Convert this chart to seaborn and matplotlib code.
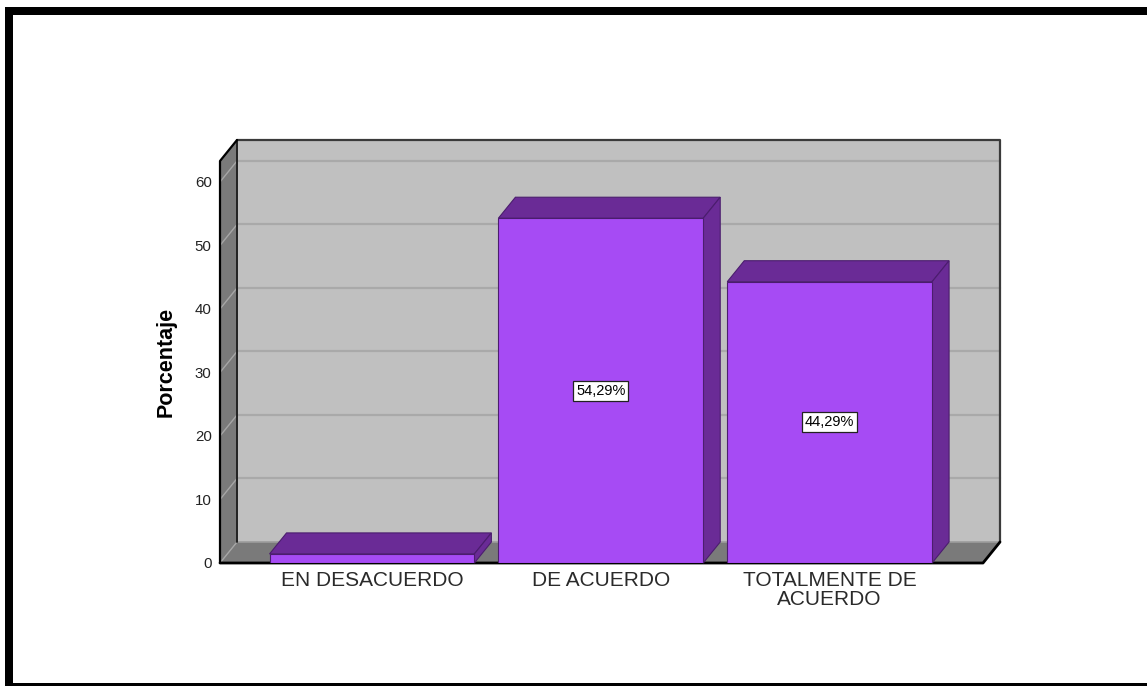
import matplotlib
matplotlib.use("Agg")
import matplotlib.pyplot as plt
from matplotlib.patches import Rectangle, Polygon
import seaborn as sns
import pandas as pd

# Survey answers (percent of respondents)
categories = ["EN DESACUERDO", "DE ACUERDO", "TOTALMENTE DE\nACUERDO"]
percentages = [1.43, 54.29, 44.29]
value_labels = ["", "54,29%", "44,29%"]
y_ticks = [0, 10, 20, 30, 40, 50, 60]
y_max = 63.3

FRONT = "#A64BF4"
DARK = "#6A2B96"
EDGE = "#4B1D6E"
WALL = "#C0C0C0"
SIDE = "#7A7A7A"

W, H, DPI = 1147, 686, 100

sns.set_theme(style="white")
plt.rcParams["font.family"] = ["Liberation Sans", "DejaVu Sans"]

fig = plt.figure(figsize=(W / DPI, H / DPI), dpi=DPI)
fig.patch.set_facecolor("white")

# front plane of the 3D box (pixel geometry)
left_px, right_px = 220, 983
base_px, top_px = 563, 161
ax = fig.add_axes([left_px / W, (H - base_px) / H,
                   (right_px - left_px) / W, (base_px - top_px) / H])
ax.set_facecolor("none")
for s in ax.spines.values():
    s.set_visible(False)

df = pd.DataFrame({"cat": categories, "pct": percentages})
sns.barplot(data=df, x="cat", y="pct", color=FRONT, saturation=1,
            width=0.895, edgecolor=EDGE, linewidth=0.8, ax=ax, zorder=5)

x0, x1 = -0.664, 2.67
ax.set_xlim(x0, x1)
ax.set_ylim(0, y_max)

# depth offset of the box, converted from pixels to data units
depth_x_px, depth_y_px = 17, 21
ddx = depth_x_px * (x1 - x0) / (right_px - left_px)
ddy = depth_y_px * y_max / (base_px - top_px)

common = dict(clip_on=False)

# back wall with gridlines
ax.add_patch(Rectangle((x0 + ddx, ddy), x1 - x0, y_max, fc=WALL, ec="none",
                       zorder=0, **common))
for v in y_ticks[1:]:
    ax.plot([x0 + ddx, x1 + ddx], [v + ddy, v + ddy], color="#A9A9A9",
            lw=1.6, zorder=1, **common)
ax.plot([x0 + ddx, x1 + ddx, x1 + ddx], [y_max + ddy, y_max + ddy, ddy],
        color="#3A3A3A", lw=1.6, zorder=1, **common)

# left side wall
ax.add_patch(Polygon([(x0, 0), (x0, y_max), (x0 + ddx, y_max + ddy), (x0 + ddx, ddy)],
                     closed=True, fc=SIDE, ec="none", zorder=2, **common))
for v in y_ticks:
    ax.plot([x0, x0 + ddx], [v, v + ddy], color="#A6A6A6", lw=1.0, zorder=3, **common)

# floor
ax.add_patch(Polygon([(x0, 0), (x1, 0), (x1 + ddx, ddy), (x0 + ddx, ddy)],
                     closed=True, fc=SIDE, ec="none", zorder=2, **common))
ax.plot([x0 + ddx, x1 + ddx], [ddy, ddy], color="#9C9C9C", lw=1.2, zorder=2.5, **common)

# box outlines
ax.plot([x0 + ddx, x0 + ddx], [ddy, y_max + ddy], color="#222222", lw=1.4, zorder=3, **common)
ax.plot([x0, x0, x0 + ddx], [0, y_max, y_max + ddy], color="black", lw=1.6, zorder=3, **common)
ax.plot([x0, x1, x1 + ddx], [0, 0, ddy], color="black", lw=2.0, zorder=3, **common)

# top and side faces of each bar
for patch in list(ax.containers[0]):
    bx, bw, bh = patch.get_x(), patch.get_width(), patch.get_height()
    top = [(bx, bh), (bx + bw, bh), (bx + bw + ddx, bh + ddy), (bx + ddx, bh + ddy)]
    side = [(bx + bw, 0), (bx + bw, bh), (bx + bw + ddx, bh + ddy), (bx + bw + ddx, ddy)]
    for poly in (top, side):
        ax.add_patch(Polygon(poly, closed=True, fc=DARK, ec=EDGE, lw=0.8,
                             zorder=4, **common))

# value labels centred in the bars
for patch, lab in zip(ax.containers[0], value_labels):
    if not lab:
        continue
    ax.text(patch.get_x() + patch.get_width() / 2, patch.get_height() / 2, lab,
            ha="center", va="center", fontsize=10.5, color="black", zorder=6,
            bbox=dict(boxstyle="square,pad=0.2", fc="white", ec="#222222", lw=0.9))

ax.set_yticks(y_ticks)
ax.tick_params(axis="y", length=0, pad=6, labelsize=10.8, labelcolor="#222222")
ax.tick_params(axis="x", length=0, pad=6, labelsize=15, labelcolor="#2A2A2A")
for lab in ax.get_xticklabels():
    lab.set_linespacing(0.95)
ax.set_xlabel("")
ax.set_ylabel("Porcentaje", fontsize=15.5, fontweight="bold", color="black")
ax.yaxis.label.set_va("center")
ax.yaxis.set_label_coords((166 - left_px) / (right_px - left_px), 0.5)

# thick outer frame
frame = dict(transform=fig.transFigure, fc="black", ec="none")
fig.add_artist(Rectangle((5 / W, 0), 8 / W, (H - 7) / H, **frame))
fig.add_artist(Rectangle((5 / W, (H - 15) / H), (W - 5) / W, 8 / H, **frame))
fig.add_artist(Rectangle((5 / W, 0), (W - 5) / W, 3 / H, **frame))

fig.savefig("out.png", dpi=DPI)
